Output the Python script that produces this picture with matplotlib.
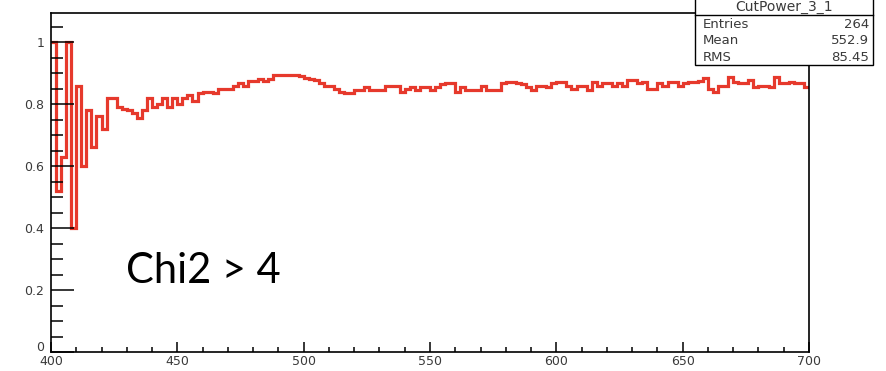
import numpy as np
import matplotlib
matplotlib.use("Agg")
import matplotlib.pyplot as plt
from matplotlib.patches import Rectangle
from matplotlib.lines import Line2D
from matplotlib.transforms import ScaledTranslation
from matplotlib.ticker import MultipleLocator, FixedLocator, FixedFormatter

# histogram: 150 bins of width 2 between 400 and 700
x_lo, x_hi, n_bins = 400, 700, 150
ratio = [
    1.00, 0.52, 0.63, 1.00, 0.40, 0.86, 0.60, 0.78, 0.66, 0.76,
    0.72, 0.82, 0.82, 0.79, 0.785, 0.78, 0.77, 0.755, 0.78, 0.82,
    0.79, 0.80, 0.82, 0.79, 0.82, 0.80, 0.82, 0.83, 0.81, 0.835,
    0.84, 0.84, 0.835, 0.85, 0.85, 0.85, 0.86, 0.867, 0.86, 0.874,
    0.874, 0.88, 0.874, 0.88, 0.894, 0.894, 0.894, 0.894, 0.894, 0.89,
    0.885, 0.88, 0.877, 0.867, 0.86, 0.86, 0.85, 0.84, 0.835, 0.835,
    0.845, 0.845, 0.855, 0.845, 0.845, 0.845, 0.86, 0.86, 0.858, 0.84,
    0.85, 0.856, 0.845, 0.856, 0.856, 0.845, 0.856, 0.864, 0.868, 0.868,
    0.84, 0.856, 0.845, 0.845, 0.845, 0.86, 0.847, 0.847, 0.845, 0.867,
    0.872, 0.872, 0.867, 0.864, 0.856, 0.845, 0.86, 0.86, 0.856, 0.867,
    0.872, 0.872, 0.86, 0.85, 0.86, 0.86, 0.845, 0.872, 0.86, 0.867,
    0.867, 0.858, 0.868, 0.86, 0.877, 0.877, 0.867, 0.872, 0.85, 0.85,
    0.868, 0.86, 0.872, 0.872, 0.86, 0.867, 0.872, 0.872, 0.875, 0.884,
    0.85, 0.839, 0.86, 0.86, 0.887, 0.872, 0.867, 0.867, 0.877, 0.856,
    0.86, 0.86, 0.856, 0.887, 0.867, 0.867, 0.872, 0.867, 0.867, 0.856,
]

y_ticks = [0, 0.2, 0.4, 0.6, 0.8, 1.0]
y_labels = ["0", "0.2", "0.4", "0.6", "0.8", "1"]
x_ticks = [400, 450, 500, 550, 600, 650, 700]

hist_name = "CutPower_3_1"
stat_names = ["Entries", "Mean", "RMS"]
stat_values = ["264", "552.9", "85.45"]
note = "Chi2 > 4"

W, H = 886, 371
fig = plt.figure(figsize=(W / 100, H / 100), dpi=100)
ax = fig.add_axes([51 / W, 19 / H, 758 / W, 339 / H])

edges = np.linspace(x_lo, x_hi, n_bins + 1)
ax.stairs(ratio, edges, baseline=None, color="#e6392c", lw=2.3)

ax.set_xlim(x_lo, x_hi)
ax.set_ylim(0, 1.094)
for s in ax.spines.values():
    s.set_linewidth(1.2)

ax.xaxis.set_major_locator(FixedLocator(x_ticks))
ax.xaxis.set_minor_locator(MultipleLocator(10))
ax.yaxis.set_major_locator(FixedLocator(y_ticks))
ax.yaxis.set_major_formatter(FixedFormatter(y_labels))
ax.yaxis.set_minor_locator(MultipleLocator(0.05))

ax.tick_params(axis="y", which="major", direction="in", length=16.5, width=1.1,
               pad=5, labelsize=9, labelcolor="#3a3a3a")
ax.tick_params(axis="y", which="minor", direction="in", length=8.5, width=1.1)
ax.tick_params(axis="x", which="major", direction="in", length=7, width=1.1,
               pad=2.5, labelsize=9, labelcolor="#3a3a3a")
ax.tick_params(axis="x", which="minor", direction="in", length=3.6, width=1.1)

# the "0" on the y axis sits just above the "400" like in ROOT
zero_lab = ax.yaxis.get_major_ticks()[0].label1
zero_lab.set_transform(zero_lab.get_transform() + ScaledTranslation(0, 4 / 72, fig.dpi_scale_trans))

# stats box, ROOT style
bx0, bx1, by_sep, by_bot = 695, 873, 15, 65
fig.add_artist(Rectangle((bx0 / W, 1 - by_bot / H), (bx1 - bx0) / W, (by_bot + 20) / H,
                         transform=fig.transFigure, fc="white", ec="black", lw=1.0, zorder=5))
fig.add_artist(Line2D([bx0 / W, bx1 / W], [1 - by_sep / H] * 2,
                      transform=fig.transFigure, color="black", lw=1.0, zorder=6))
fig.text((bx0 + bx1) / 2 / W, 1 - 11 / H, hist_name, ha="center", va="baseline",
         fontsize=10, color="#3a3a3a", zorder=7)
for i, (n, v) in enumerate(zip(stat_names, stat_values)):
    yb = 1 - (28 + 16.5 * i) / H
    fig.text(703 / W, yb, n, ha="left", va="baseline", fontsize=9.5, color="#3a3a3a", zorder=7)
    fig.text(869 / W, yb, v, ha="right", va="baseline", fontsize=9.5, color="#3a3a3a", zorder=7)

fig.text(126 / W, 1 - 283 / H, note, ha="left", va="baseline",
         fontsize=30, family="Lato", color="black")

fig.savefig("out.png", dpi=100)
